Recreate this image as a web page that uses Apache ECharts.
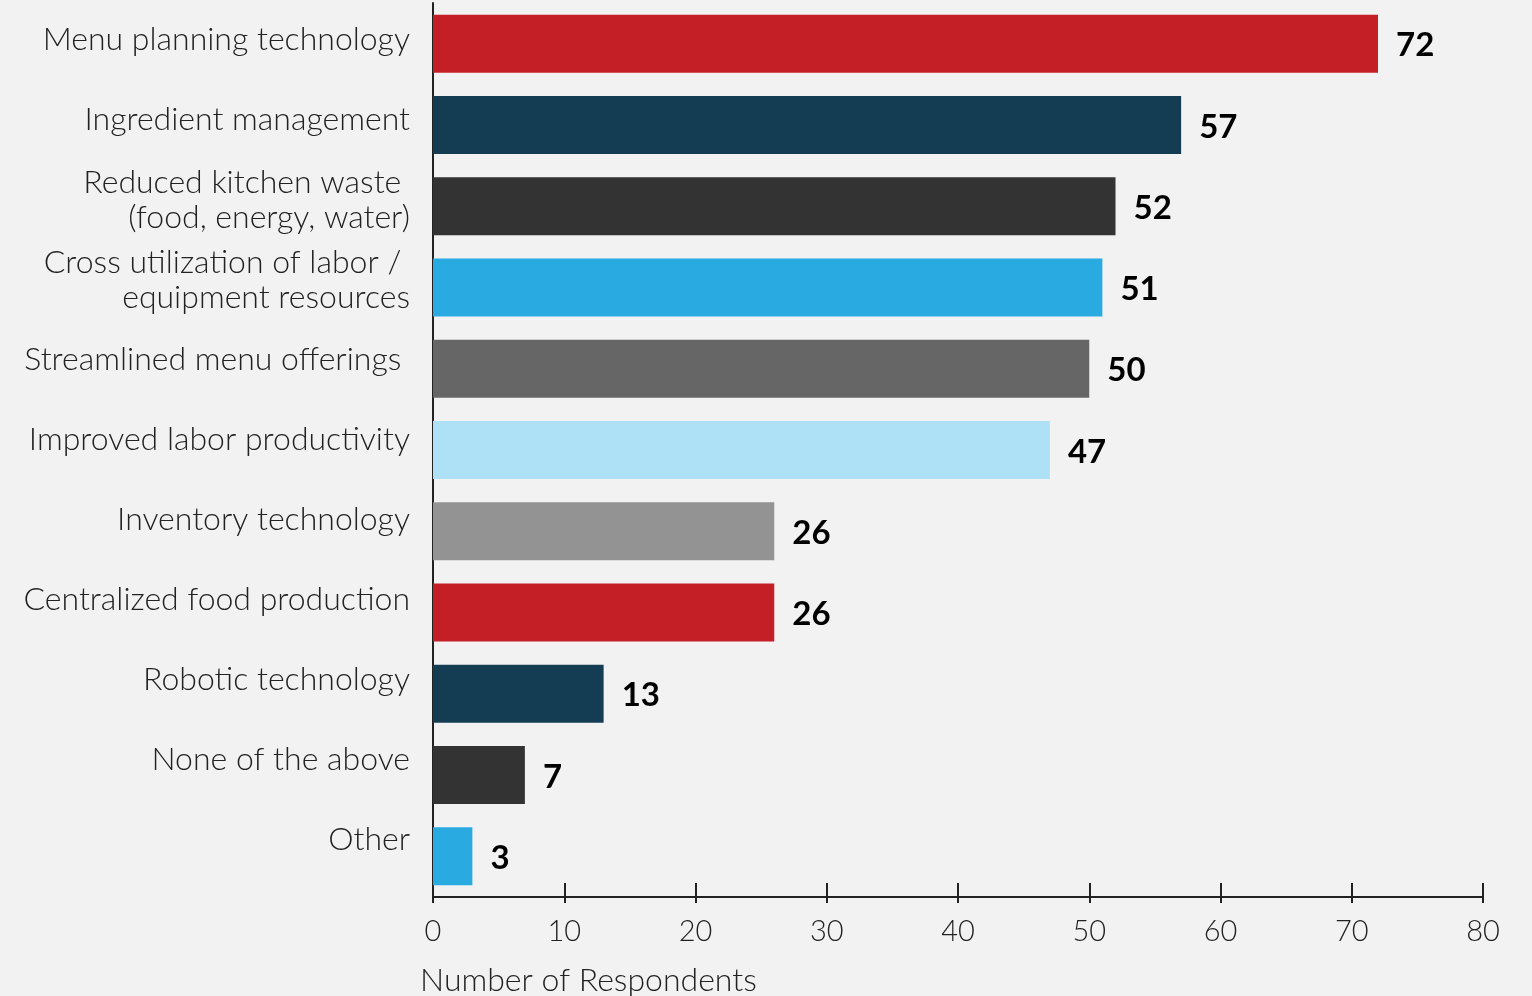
<!DOCTYPE html>
<html>
<head>
<meta charset="utf-8">
<script src="https://cdn.jsdelivr.net/npm/echarts@6/dist/echarts.min.js"></script>
<style>
  html, body { margin: 0; padding: 0; background: #f2f2f2; }
  #chart { width: 1532px; height: 996px; }
</style>
</head>
<body>
<div id="chart"></div>
<script>
// Survey responses: technologies / practices adopted
const categories = [
  'Menu planning technology',
  'Ingredient management',
  'Reduced kitchen waste \n(food, energy, water)',
  'Cross utilization of labor / \nequipment resources',
  'Streamlined menu offerings ',
  'Improved labor productivity',
  'Inventory technology',
  'Centralized food production',
  'Robotic technology',
  'None of the above',
  'Other'
];
const respondents = [72, 57, 52, 51, 50, 47, 26, 26, 13, 7, 3];
const barColors = [
  '#c41f26', '#143d54', '#333333', '#29abe2', '#666666', '#aee0f6',
  '#939393', '#c41f26', '#143d54', '#333333', '#29abe2'
];
const xTicks = [0, 10, 20, 30, 40, 50, 60, 70, 80];
const axisTitle = 'Number of Respondents';

const FONT = 'Lato, "Noto Sans", sans-serif';
const chart = echarts.init(document.getElementById('chart'), null, { renderer: 'canvas' });

// grid 0 holds the bars; grid 1 is a label-only band set slightly higher
const grids = [
  { left: 433, right: 49, top: 3, bottom: 99 },
  { left: 433, right: 49, top: -8, bottom: 116 }
];

const valueAxisBase = {
  type: 'value',
  min: xTicks[0],
  max: xTicks[xTicks.length - 1],
  interval: 10,
  splitLine: { show: false }
};

chart.setOption({
  backgroundColor: '#f2f2f2',
  animation: false,
  grid: grids,
  xAxis: [
    Object.assign({}, valueAxisBase, {
      gridIndex: 0,
      axisLine: { show: true, lineStyle: { color: '#222', width: 2 } },
      axisTick: { show: true, inside: true, length: 14, lineStyle: { color: '#222', width: 2 } },
      axisLabel: {
        margin: 20, color: '#222', fontFamily: FONT, fontWeight: 300, fontSize: 29,
        formatter: v => xTicks.includes(v) ? String(v) : ''
      }
    }),
    Object.assign({}, valueAxisBase, {
      gridIndex: 0,
      position: 'bottom',
      axisLine: { show: false },
      axisTick: { show: true, inside: false, length: 6, lineStyle: { color: '#222', width: 2 } },
      axisLabel: { show: false }
    }),
    Object.assign({}, valueAxisBase, {
      gridIndex: 1,
      show: false
    })
  ],
  yAxis: [{
    gridIndex: 0,
    type: 'category',
    inverse: true,
    data: categories,
    axisLine: { show: true, lineStyle: { color: '#222', width: 2 } },
    axisTick: { show: false },
    axisLabel: { show: false }
  }, {
    gridIndex: 1,
    type: 'category',
    inverse: true,
    data: categories,
    axisLine: { show: false },
    axisTick: { show: false },
    axisLabel: {
      margin: 23,
      color: '#222',
      fontFamily: FONT,
      fontWeight: 300,
      fontSize: 32,
      lineHeight: 35,
      align: 'right'
    }
  }],
  series: [{
    type: 'bar',
    xAxisIndex: 0,
    yAxisIndex: 0,
    barWidth: 58,
    data: respondents.map((v, i) => ({ value: v, itemStyle: { color: barColors[i] } })),
    label: {
      show: true,
      position: 'right',
      distance: 18,
      color: '#000',
      fontFamily: FONT,
      fontWeight: 'bold',
      fontSize: 33,
      offset: [0, 2]
    }
  }],
  graphic: [{
    type: 'text',
    left: 420,
    top: 965,
    style: {
      text: axisTitle,
      fill: '#222',
      font: '300 32px ' + FONT
    }
  }]
});
</script>
</body>
</html>
